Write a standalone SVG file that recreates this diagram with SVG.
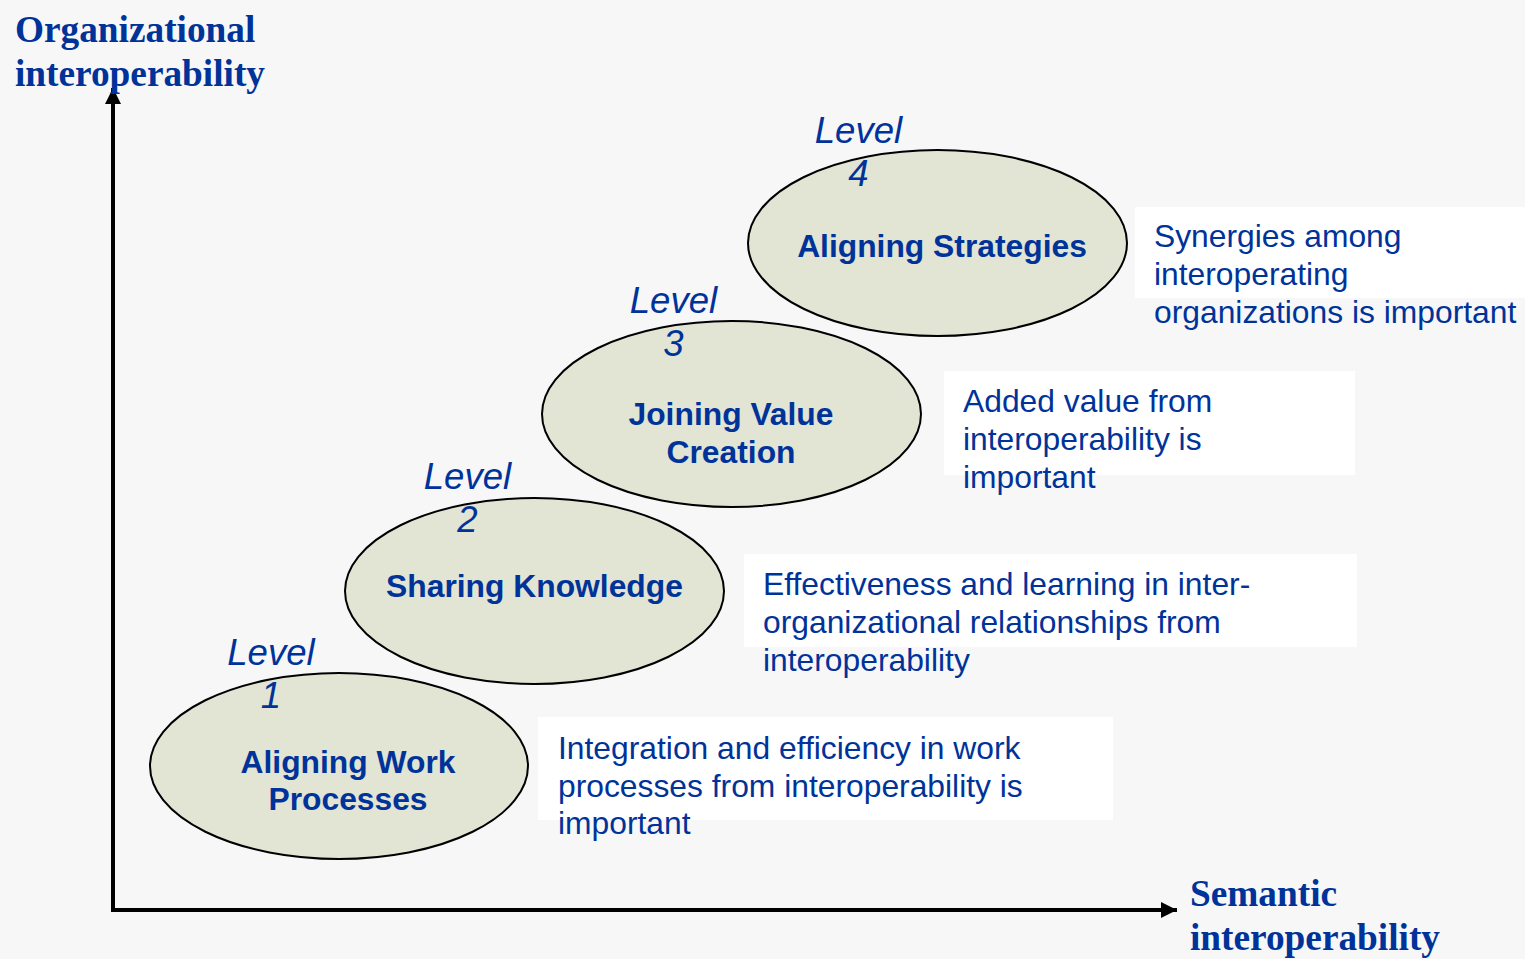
<svg xmlns="http://www.w3.org/2000/svg" width="1525" height="959" viewBox="0 0 1525 959">
<defs>
<style>
.axis-label{font-family:"Liberation Serif","Times New Roman",serif;font-weight:bold;font-size:37.3px;fill:#003399}
.level{font-family:"Liberation Sans",Arial,sans-serif;font-style:italic;font-size:36.6px;fill:#003399;text-anchor:middle}
.node-shape{fill:#E2E4D4;stroke:#000;stroke-width:2}
.node-text{font-family:"Liberation Sans",Arial,sans-serif;font-weight:bold;font-size:31.8px;fill:#003399;text-anchor:middle}
.box{fill:#FFFFFF}
.desc{font-family:"Liberation Sans",Arial,sans-serif;font-size:31.8px;fill:#003399}
.axis-line{stroke:#000;stroke-width:4;fill:none}
</style>
<marker id="arrow" viewBox="0 0 16 16" refX="16" refY="8" markerWidth="16" markerHeight="16" markerUnits="userSpaceOnUse" orient="auto">
<path d="M0,0 L16,8 L0,16 Z" fill="#000"/>
</marker>
</defs>
<rect x="0" y="0" width="1525" height="959" fill="#F7F7F7"/>

<g id="connectors">
<path class="axis-line" d="M113,910 L113,88" marker-end="url(#arrow)"/>
<path class="axis-line" d="M111,910 L1177,910" marker-end="url(#arrow)"/>
</g>

<g id="axis-y-label">
<text class="axis-label" x="15" y="42">Organizational</text>
<text class="axis-label" x="15" y="86">interoperability</text>
</g>
<g id="axis-x-label">
<text class="axis-label" x="1190" y="906">Semantic</text>
<text class="axis-label" x="1190" y="950">interoperability</text>
</g>

<g id="level1">
<ellipse class="node-shape" cx="339" cy="766" rx="189" ry="93"/>
<text class="level" x="271" y="665">Level</text>
<text class="level" x="271" y="708">1</text>
<text class="node-text" x="348" y="773">Aligning Work</text>
<text class="node-text" x="348" y="810">Processes</text>
</g>
<g id="desc1">
<rect class="box" x="538" y="717" width="575" height="103"/>
<text class="desc" x="558" y="759">Integration and efficiency in work</text>
<text class="desc" x="558" y="797">processes from interoperability is</text>
<text class="desc" x="558" y="834">important</text>
</g>

<g id="level2">
<ellipse class="node-shape" cx="534.5" cy="591" rx="189.5" ry="93"/>
<text class="level" x="467.5" y="489">Level</text>
<text class="level" x="467.5" y="532">2</text>
<text class="node-text" x="534.5" y="597">Sharing Knowledge</text>
</g>
<g id="desc2">
<rect class="box" x="744" y="554" width="613" height="93"/>
<text class="desc" x="763" y="595">Effectiveness and learning in inter-</text>
<text class="desc" x="763" y="633">organizational relationships from</text>
<text class="desc" x="763" y="671">interoperability</text>
</g>

<g id="level3">
<ellipse class="node-shape" cx="731.5" cy="414" rx="189.5" ry="93"/>
<text class="level" x="673.5" y="313">Level</text>
<text class="level" x="673.5" y="356">3</text>
<text class="node-text" x="731" y="425">Joining Value</text>
<text class="node-text" x="731" y="463">Creation</text>
</g>
<g id="desc3">
<rect class="box" x="944" y="371" width="411" height="104"/>
<text class="desc" x="963" y="412">Added value from</text>
<text class="desc" x="963" y="450">interoperability is</text>
<text class="desc" x="963" y="488">important</text>
</g>

<g id="level4">
<ellipse class="node-shape" cx="937.5" cy="243" rx="189.5" ry="93"/>
<text class="level" x="858.5" y="143">Level</text>
<text class="level" x="858.5" y="186">4</text>
<text class="node-text" x="942" y="257">Aligning Strategies</text>
</g>
<g id="desc4">
<rect class="box" x="1135" y="207" width="390" height="91"/>
<text class="desc" x="1154" y="247">Synergies among</text>
<text class="desc" x="1154" y="285">interoperating</text>
<text class="desc" x="1154" y="323">organizations is important</text>
</g>
</svg>
